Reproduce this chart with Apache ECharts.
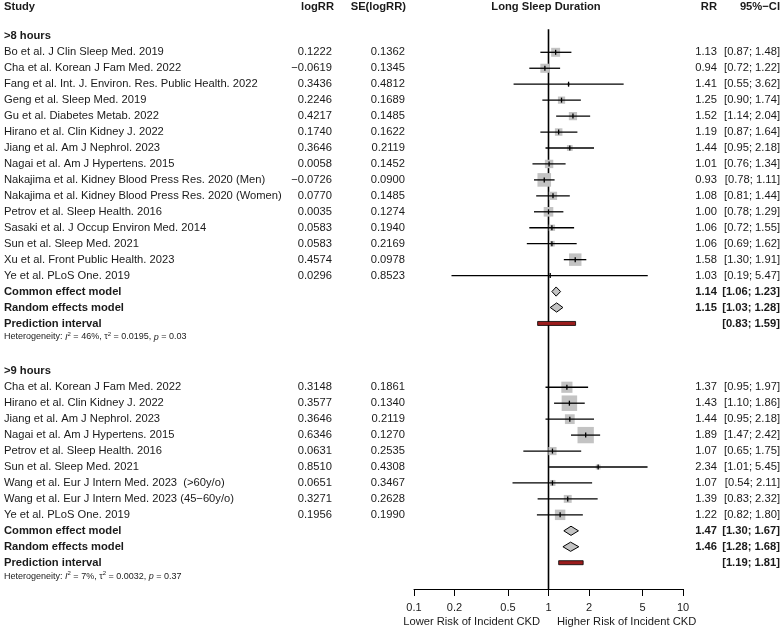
<!DOCTYPE html>
<html>
<head>
<meta charset="utf-8">
<script src="https://cdn.jsdelivr.net/npm/echarts@6/dist/echarts.min.js"></script>
<style>html,body{margin:0;padding:0;background:#fff;}#c{width:784px;height:630px;}</style>
</head>
<body>
<div id="c"></div>
<script>
// ---------- DATA ----------
const studies8 = ["Bo et al. J Clin Sleep Med. 2019", "Cha et al. Korean J Fam Med. 2022", "Fang et al. Int. J. Environ. Res. Public Health. 2022", "Geng et al. Sleep Med. 2019", "Gu et al. Diabetes Metab. 2022", "Hirano et al. Clin Kidney J. 2022", "Jiang et al. Am J Nephrol. 2023", "Nagai et al. Am J Hypertens. 2015", "Nakajima et al. Kidney Blood Press Res. 2020 (Men)", "Nakajima et al. Kidney Blood Press Res. 2020 (Women)", "Petrov et al. Sleep Health. 2016", "Sasaki et al. J Occup Environ Med. 2014", "Sun et al. Sleep Med. 2021", "Xu et al. Front Public Health. 2023", "Ye et al. PLoS One. 2019"];
const logRR8 = [0.1222, -0.0619, 0.3436, 0.2246, 0.4217, 0.1740, 0.3646, 0.0058, -0.0726, 0.0770, 0.0035, 0.0583, 0.0583, 0.4574, 0.0296];
const se8 = [0.1362, 0.1345, 0.4812, 0.1689, 0.1485, 0.1622, 0.2119, 0.1452, 0.0900, 0.1485, 0.1274, 0.1940, 0.2169, 0.0978, 0.8523];
const rr8 = [1.13, 0.94, 1.41, 1.25, 1.52, 1.19, 1.44, 1.01, 0.93, 1.08, 1.00, 1.06, 1.06, 1.58, 1.03];
const lo8 = [0.87, 0.72, 0.55, 0.90, 1.14, 0.87, 0.95, 0.76, 0.78, 0.81, 0.78, 0.72, 0.69, 1.30, 0.19];
const hi8 = [1.48, 1.22, 3.62, 1.74, 2.04, 1.64, 2.18, 1.34, 1.11, 1.44, 1.29, 1.55, 1.62, 1.91, 5.47];
const common8 = [1.14, 1.06, 1.23];
const random8 = [1.15, 1.03, 1.28];
const pred8 = [0.83, 1.59];
const het8 = ["46%", "0.0195", "0.03"];

const studies9 = ["Cha et al. Korean J Fam Med. 2022", "Hirano et al. Clin Kidney J. 2022", "Jiang et al. Am J Nephrol. 2023", "Nagai et al. Am J Hypertens. 2015", "Petrov et al. Sleep Health. 2016", "Sun et al. Sleep Med. 2021", "Wang et al. Eur J Intern Med. 2023  (>60y/o)", "Wang et al. Eur J Intern Med. 2023 (45\u221260y/o)", "Ye et al. PLoS One. 2019"];
const logRR9 = [0.3148, 0.3577, 0.3646, 0.6346, 0.0631, 0.8510, 0.0651, 0.3271, 0.1956];
const se9 = [0.1861, 0.1340, 0.2119, 0.1270, 0.2535, 0.4308, 0.3467, 0.2628, 0.1990];
const rr9 = [1.37, 1.43, 1.44, 1.89, 1.07, 2.34, 1.07, 1.39, 1.22];
const lo9 = [0.95, 1.10, 0.95, 1.47, 0.65, 1.01, 0.54, 0.83, 0.82];
const hi9 = [1.97, 1.86, 2.18, 2.42, 1.75, 5.45, 2.11, 2.32, 1.80];
const common9 = [1.47, 1.30, 1.67];
const random9 = [1.46, 1.28, 1.68];
const pred9 = [1.19, 1.81];
const het9 = ["7%", "0.0032", "0.37"];

const groupLabels = [">8 hours", ">9 hours"];
const headers = ["Study", "logRR", "SE(logRR)", "Long Sleep Duration", "RR", "95%\u2212CI"];
const axisTicks = [0.1, 0.2, 0.5, 1, 2, 5, 10];
const axisTitles = ["Lower Risk of Incident CKD", "Higher Risk of Incident CKD"];

// ---------- BUILD ----------
const FONT = '"Liberation Sans", Arial, Helvetica, sans-serif';
const TXT = '#1a1a1a';
const fmt = (v, d) => (v < 0 ? '\u2212' : '') + Math.abs(v).toFixed(d);
const ci = (l, h) => '[' + fmt(l, 2) + '; ' + fmt(h, 2) + ']';

const groups = [
  {label: groupLabels[0], studies: studies8, logRR: logRR8, se: se8, rr: rr8, lo: lo8, hi: hi8, common: common8, random: random8, pred: pred8, het: het8, start: -1},
  {label: groupLabels[1], studies: studies9, logRR: logRR9, se: se9, rr: rr9, lo: lo9, hi: hi9, common: common9, random: random9, pred: pred9, het: het9, start: 20}
];

const textRows = [];
const squareData = [];
const diamondData = [];
const predData = [];

textRows.push({k: -2.85, items: [
  {x: 4, text: headers[0], align: 'left', bold: true},
  {x: 334, text: headers[1], align: 'right', bold: true},
  {x: 406, text: headers[2], align: 'right', bold: true},
  {x: 546, text: headers[3], align: 'center', bold: true},
  {x: 717, text: headers[4], align: 'right', bold: true},
  {x: 780, text: headers[5], align: 'right', bold: true}
]});

groups.forEach(g => {
  let k = g.start;
  textRows.push({k: k, items: [{x: 4, text: g.label, align: 'left', bold: true}]});
  const w = g.se.map(s => 1 / (s * s));
  const wsum = w.reduce((a, b) => a + b, 0);
  g.studies.forEach((s, i) => {
    k++;
    textRows.push({k: k, items: [
      {x: 4, text: s, align: 'left'},
      {x: 332, text: fmt(g.logRR[i], 4), align: 'right'},
      {x: 405, text: fmt(g.se[i], 4), align: 'right'},
      {x: 717, text: fmt(g.rr[i], 2), align: 'right'},
      {x: 780, text: ci(g.lo[i], g.hi[i]), align: 'right'}
    ]});
    squareData.push([g.rr[i], k, g.lo[i], g.hi[i], w[i] / wsum]);
  });
  k++;
  textRows.push({k: k, items: [
    {x: 4, text: 'Common effect model', align: 'left', bold: true},
    {x: 717, text: fmt(g.common[0], 2), align: 'right', bold: true},
    {x: 780, text: ci(g.common[1], g.common[2]), align: 'right', bold: true}
  ]});
  diamondData.push([g.common[0], k, g.common[1], g.common[2]]);
  k++;
  textRows.push({k: k, items: [
    {x: 4, text: 'Random effects model', align: 'left', bold: true},
    {x: 717, text: fmt(g.random[0], 2), align: 'right', bold: true},
    {x: 780, text: ci(g.random[1], g.random[2]), align: 'right', bold: true}
  ]});
  diamondData.push([g.random[0], k, g.random[1], g.random[2]]);
  k++;
  textRows.push({k: k, items: [
    {x: 4, text: 'Prediction interval', align: 'left', bold: true},
    {x: 780, text: ci(g.pred[0], g.pred[1]), align: 'right', bold: true}
  ]});
  predData.push([g.pred[0], k, g.pred[1]]);
  k++;
  textRows.push({k: k - 0.15, items: [
    {x: 4, align: 'left', small: true,
     text: 'Heterogeneity: {i|I}{sup|2} = ' + g.het[0] + ', \u03c4{sup|2} = ' + g.het[1] + ', {i|p} = ' + g.het[2]}
  ]});
});

const textIdx = textRows.map((r, i) => [1, r.k, i]);

const chart = echarts.init(document.getElementById('c'), null, {renderer: 'canvas'});

const option = {
  animation: false,
  backgroundColor: '#ffffff',
  grid: {left: 414, right: 101, top: 0, bottom: 41, containLabel: false},
  xAxis: {
    type: 'log', logBase: 10, min: 0.1, max: 10, position: 'bottom',
    splitLine: {show: false},
    axisLine: {show: true, onZero: false, lineStyle: {color: '#000', width: 1}},
    axisTick: {show: true, length: 7, customValues: axisTicks, lineStyle: {color: '#000', width: 1}},
    axisLabel: {show: true, customValues: axisTicks, margin: 13, color: TXT, fontSize: 11, fontFamily: FONT,
      formatter: v => String(+v.toPrecision(3))},
    minorTick: {show: false}
  },
  yAxis: {type: 'value', inverse: true, min: -3.279, max: 33.649, show: false},
  series: [
    {
      type: 'line', data: [[1, -1.45], [1, 33.649]], symbol: 'none', silent: true,
      lineStyle: {color: '#000', width: 1.6}, z: 1
    },
    {
      type: 'custom', data: squareData, z: 3, silent: true,
      renderItem: (params, api) => {
        const c = api.coord([api.value(0), api.value(1)]);
        const l = api.coord([api.value(2), api.value(1)]);
        const h = api.coord([api.value(3), api.value(1)]);
        const side = 32 * Math.sqrt(api.value(4));
        return {type: 'group', children: [
          {type: 'rect', shape: {x: c[0] - side / 2, y: c[1] - side / 2, width: side, height: side}, style: {fill: '#c3c3c3'}},
          {type: 'line', shape: {x1: l[0], y1: c[1], x2: h[0], y2: c[1]}, style: {stroke: '#000', lineWidth: 1.3}},
          {type: 'line', shape: {x1: c[0], y1: c[1] - 2.5, x2: c[0], y2: c[1] + 2.5}, style: {stroke: '#000', lineWidth: 1.3}}
        ]};
      }
    },
    {
      type: 'custom', data: diamondData, z: 3, silent: true,
      renderItem: (params, api) => {
        const c = api.coord([api.value(0), api.value(1)]);
        const l = api.coord([api.value(2), api.value(1)]);
        const h = api.coord([api.value(3), api.value(1)]);
        const hh = 4.6;
        return {type: 'polygon', shape: {points: [[l[0], c[1]], [c[0], c[1] - hh], [h[0], c[1]], [c[0], c[1] + hh]]},
          style: {fill: '#c3c3c3', stroke: '#000', lineWidth: 1}};
      }
    },
    {
      type: 'custom', data: predData, z: 3, silent: true,
      renderItem: (params, api) => {
        const l = api.coord([api.value(0), api.value(1)]);
        const h = api.coord([api.value(2), api.value(1)]);
        return {type: 'rect', shape: {x: l[0], y: l[1] - 2, width: h[0] - l[0], height: 4},
          style: {fill: '#9b1c1c', stroke: '#000', lineWidth: 0.8}};
      }
    },
    {
      type: 'custom', data: textIdx, z: 5, silent: true, clip: false,
      renderItem: (params, api) => {
        const y = api.coord([1, api.value(1)])[1];
        const row = textRows[api.value(2)];
        return {type: 'group', children: row.items.map(it => {
          const st = {
            text: it.text, x: it.x, y: y,
            align: it.align, verticalAlign: 'middle',
            textAlign: it.align, textVerticalAlign: 'middle',
            fill: TXT, fontFamily: FONT,
            fontSize: it.small ? 9 : 11.2, fontWeight: it.bold ? 'bold' : 'normal'
          };
          if (it.small) {
            st.lineHeight = 12;
            st.rich = {
              i: {fontStyle: 'italic', fontSize: 9, fontFamily: FONT, fill: TXT, lineHeight: 12},
              sup: {fontSize: 6, fontFamily: FONT, fill: TXT, lineHeight: 6, verticalAlign: 'top'}
            };
          }
          return {type: 'text', style: st};
        })};
      }
    }
  ],
  graphic: [
    {type: 'text', style: {text: axisTitles[0], x: 540, y: 622, align: 'right', verticalAlign: 'middle', textAlign: 'right', textVerticalAlign: 'middle', fontSize: 11.2, fontFamily: FONT, fill: TXT}},
    {type: 'text', style: {text: axisTitles[1], x: 557, y: 622, align: 'left', verticalAlign: 'middle', textAlign: 'left', textVerticalAlign: 'middle', fontSize: 11.2, fontFamily: FONT, fill: TXT}}
  ]
};
chart.setOption(option);
</script>
</body>
</html>
